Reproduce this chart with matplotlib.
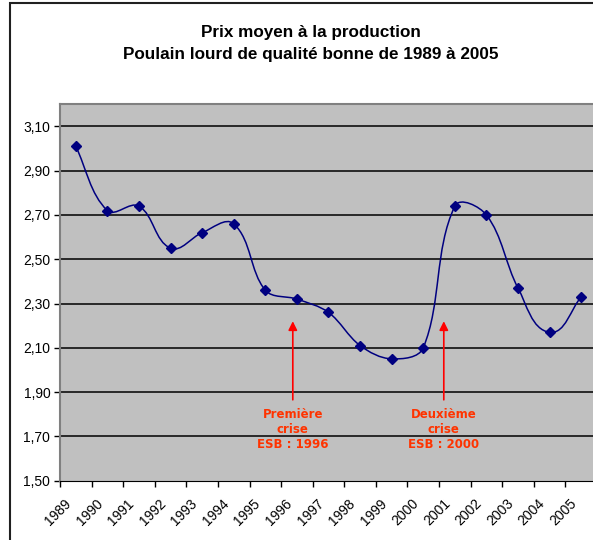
import numpy as np
import matplotlib
matplotlib.use("Agg")
import matplotlib.pyplot as plt
from matplotlib.path import Path
from matplotlib.patches import PathPatch, Rectangle
from matplotlib.ticker import FuncFormatter, FixedLocator
from matplotlib.transforms import ScaledTranslation

plt.rcParams["font.family"] = ["Liberation Sans", "DejaVu Sans"]

years = [str(y) for y in range(1989, 2006)]
prices = [3.01, 2.72, 2.74, 2.55, 2.62, 2.66, 2.36, 2.32, 2.26,
          2.11, 2.05, 2.10, 2.74, 2.70, 2.37, 2.17, 2.33]
crises = [("Première\ncrise\nESB : 1996", 6.87), ("Deuxième\ncrise\nESB : 2000", 11.65)]

W, H = 593, 540
fig = plt.figure(figsize=(W / 100, H / 100), dpi=100)
ax = fig.add_axes([60 / W, 1 - 480.6 / H, 537 / W, (480.6 - 104.3) / H])
ax.set_facecolor("#c0c0c0")

x = np.arange(len(prices))
y = np.array(prices)
ax.set_xlim(-0.5, len(prices) - 0.5)
ax.set_ylim(1.5, 3.2)

# Excel-style smoothed line: Bezier controls along the neighbour tangent,
# length a third of the adjacent segment (worked out in screen proportions)
ysc = (480.6 - 104.3) / 1.7 / (537 / len(prices))
pts = np.column_stack([x, y * ysc])
n = len(pts)
tang = np.zeros_like(pts)
for i in range(n):
    d = pts[min(i + 1, n - 1)] - pts[max(i - 1, 0)]
    tang[i] = d / np.hypot(*d)
verts, codes = [pts[0]], [Path.MOVETO]
for i in range(n - 1):
    seg = np.hypot(*(pts[i + 1] - pts[i])) / 3
    verts += [pts[i] + tang[i] * seg, pts[i + 1] - tang[i + 1] * seg, pts[i + 1]]
    codes += [Path.CURVE4] * 3
verts = np.array(verts)
verts[:, 1] /= ysc
ax.add_patch(PathPatch(Path(verts, codes), fill=False, edgecolor="#000080", lw=1.1, zorder=3))
ax.plot(x, y, ls="none", marker="D", ms=5.5, color="#000080", zorder=4)

yt = np.arange(1.5, 3.11, 0.2)
ax.set_yticks(yt)
ax.yaxis.set_major_formatter(FuncFormatter(lambda v, p: f"{v:.2f}".replace(".", ",")))
for v in yt[1:]:
    ax.axhline(v, color="black", lw=1.1, zorder=1)

ax.xaxis.set_major_locator(FixedLocator(np.arange(-0.5, len(prices), 1.0)))
ax.set_xticklabels([])
ax.set_xticks(x, minor=True)
ax.set_xticklabels(years, minor=True, rotation=45, ha="right", va="center",
                   rotation_mode="anchor", fontsize=10)
ax.tick_params(axis="x", which="minor", length=0, pad=15)
ax.tick_params(axis="x", which="major", length=4, width=1)
ax.tick_params(axis="y", length=4, width=1, labelsize=10, pad=3)
for lbl in ax.get_xticklabels(minor=True):
    lbl.set_transform(lbl.get_transform() + ScaledTranslation(-0.07, 0, fig.dpi_scale_trans))

for s in ["top", "right", "left"]:
    ax.spines[s].set_color("#808080")
    ax.spines[s].set_linewidth(1.5)
ax.spines["bottom"].set_color("black")

for label, xc in crises:
    ax.annotate("", xy=(xc, 2.22), xytext=(xc, 1.865),
                arrowprops=dict(arrowstyle="-|>", color="red", lw=1.2,
                                mutation_scale=13, shrinkA=0, shrinkB=0), zorder=5)
    ax.text(xc, 1.73, label, ha="center", va="center", color="#ff3300",
            family="DejaVu Sans", fontsize=8.5, fontweight="bold",
            linespacing=1.2, zorder=6)

fig.text(311 / W, 1 - 32 / H, "Prix moyen à la production", ha="center", va="center",
         fontsize=12.3, fontweight="bold")
fig.text(311 / W, 1 - 55 / H, "Poulain lourd de qualité bonne de 1989 à 2005", ha="center",
         va="center", fontsize=12.3, fontweight="bold")

fig.patches.append(Rectangle((10 / W, -0.2), 1.2, 1.2 - 3 / H, transform=fig.transFigure,
                             fill=False, edgecolor="#202020", lw=1.5))

fig.savefig("out.png", dpi=100)
